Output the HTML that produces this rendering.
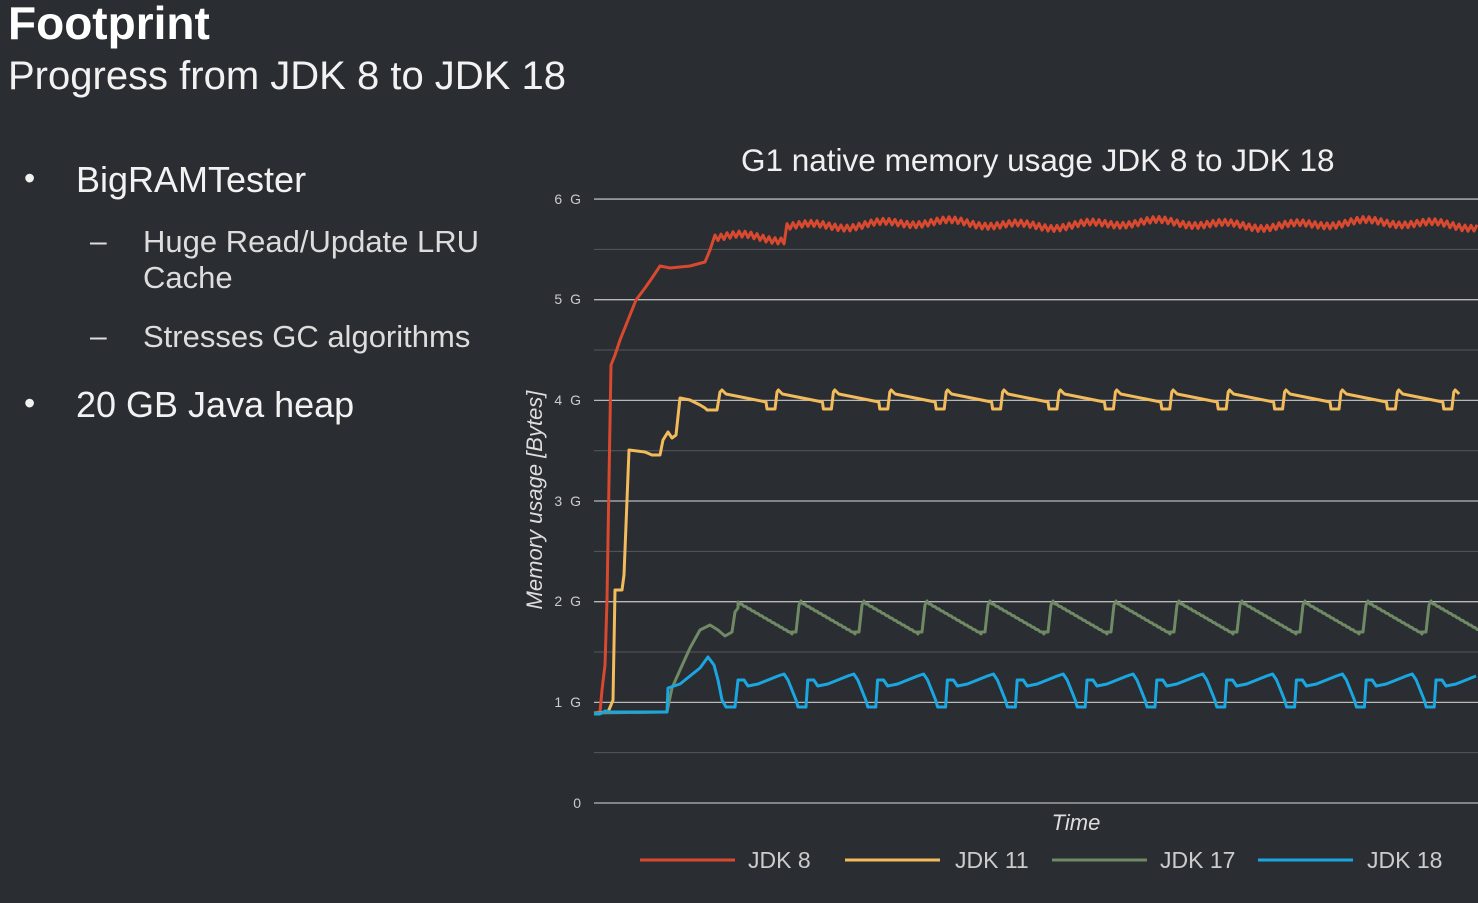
<!DOCTYPE html>
<html><head><meta charset="utf-8"><style>
html,body{margin:0;padding:0;background:#2a2d31;width:1478px;height:903px;overflow:hidden}
body{font-family:"Liberation Sans",sans-serif;color:#fff;position:relative}
.t{position:absolute;white-space:nowrap}
</style></head><body>
<div class="t" style="left:8px;top:-4px;font-size:46px;font-weight:bold;">Footprint</div>
<div class="t" style="left:8px;top:54px;font-size:40px;color:#f2f2f2">Progress from JDK 8 to JDK 18</div>
<div class="t" style="left:24px;top:160px;font-size:32px;color:#f2f2f2">•</div>
<div class="t" style="left:76px;top:159px;font-size:36px;color:#f2f2f2">BigRAMTester</div>
<div class="t" style="left:90px;top:225px;font-size:30px;color:#ddd">–</div>
<div class="t" style="left:143px;top:224px;font-size:31px;color:#ddd;line-height:36px">Huge Read/Update LRU<br>Cache</div>
<div class="t" style="left:90px;top:320px;font-size:30px;color:#ddd">–</div>
<div class="t" style="left:143px;top:319px;font-size:31px;color:#ddd">Stresses GC algorithms</div>
<div class="t" style="left:24px;top:385px;font-size:32px;color:#f2f2f2">•</div>
<div class="t" style="left:76px;top:384px;font-size:36px;color:#f2f2f2">20 GB Java heap</div>
<div class="t" style="left:741px;top:142px;font-size:31.5px;color:#f0f0f0">G1 native memory usage JDK 8 to JDK 18</div>
<svg id="c" width="1478" height="903" style="position:absolute;left:0;top:0" xmlns="http://www.w3.org/2000/svg">
<g font-family="Liberation Sans, sans-serif" font-size="14" fill="#ccc" text-anchor="end" letter-spacing="2">
<text x="583" y="204">6 G</text><text x="583" y="304">5 G</text><text x="583" y="405">4 G</text>
<text x="583" y="506">3 G</text><text x="583" y="606">2 G</text><text x="583" y="707">1 G</text><text x="583" y="808">0</text>
</g>
<text transform="translate(542,500) rotate(-90)" text-anchor="middle" font-family="Liberation Sans, sans-serif" font-size="22" font-style="italic" fill="#ddd">Memory usage [Bytes]</text>
<text x="1076" y="830" text-anchor="middle" font-family="Liberation Sans, sans-serif" font-size="22" font-style="italic" fill="#ddd">Time</text>
<g id="grid"></g><g id="series" fill="none" stroke-width="3" stroke-linejoin="round"></g>
<g stroke-width="3"><line x1="640" y1="860" x2="735" y2="860" stroke="#d9492f"/><line x1="845" y1="860" x2="940" y2="860" stroke="#f2bb5c"/><line x1="1052" y1="860" x2="1147" y2="860" stroke="#6f8a65"/><line x1="1258" y1="860" x2="1353" y2="860" stroke="#1aa6e0"/></g>
<g font-family="Liberation Sans, sans-serif" font-size="23" fill="#ccc"><text x="748" y="868">JDK 8</text><text x="955" y="868">JDK 11</text><text x="1160" y="868">JDK 17</text><text x="1367" y="868">JDK 18</text></g>
</svg>
<script>
var ns="http://www.w3.org/2000/svg",g=document.getElementById('grid'),s=document.getElementById('series');
for(var i=0;i<=12;i++){var y=803-i*50.33;var l=document.createElementNS(ns,'line');l.setAttribute('x1',594);l.setAttribute('x2',1478);l.setAttribute('y1',y);l.setAttribute('y2',y);l.setAttribute('stroke',i%2?'#55585c':'#b8b8b8');l.setAttribute('stroke-width',i%2?1:1.3);g.appendChild(l);}
function P(pts,c){var p=document.createElementNS(ns,'polyline');p.setAttribute('points',pts.map(function(a){return a[0].toFixed(1)+','+a[1].toFixed(1)}).join(' '));p.setAttribute('stroke',c);s.appendChild(p);}
var a=[[594,713],[600,712],[602,690],[605,665],[607,600],[609,480],[611,365],[615,355],[620,340],[628,320],[636,300],[645,288],[652,278],[660,266],[670,268],[690,266],[705,262],[710,250],[715,235]];
for(var x=715;x<=1478;x+=3){var b=x<785?238:224;var w=((x/3)%2<1?-3:3)+2.5*Math.sin(x/11);a.push([x,b+w-2*Math.sin(x/35)]);}
P(a,'#d9492f');
a=[[594,713],[608,712],[611,705],[613,700],[615,590],[622,590],[624,575],[627,500],[629,450],[645,452],[652,455],[660,455],[663,440],[668,432],[672,438],[676,435],[680,398],[690,400],[700,405],[705,408],[707,410],[712,410],[717,410],[720,392],[722,390]];
var p0=722,per=56.4;for(var k=0;k<14;k++){var x0=p0+k*per;a.push([x0,390],[x0+4,394],[x0+44,402],[x0+45,409],[x0+53,409],[x0+55,392],[x0+per,390]);}
P(a.filter(function(q){return q[0]<=1480}),'#f2bb5c');
a=[[594,713],[667,712],[672,688],[680,670],[690,648],[700,630],[710,625],[718,630],[725,636],[732,632],[735,612],[738,608]];
p0=738;per=63;for(k=0;k<12;k++){x0=p0+k*per;for(var t=0;t<=52;t+=4){var yy=602+30*t/52;a.push([x0+t,yy],[x0+t+2,yy+2]);}a.push([x0+54,632],[x0+58,632],[x0+61,605],[x0+per,601]);}
P(a.filter(function(q){return q[0]<=1480}),'#6f8a65');
a=[[594,714],[600,714],[605,711],[610,712],[667,712],[668,688],[680,684],[690,676],[700,668],[708,657],[714,665],[718,680],[722,700],[726,707],[735,707],[738,680]];
p0=738;per=69.8;for(k=0;k<11;k++){x0=p0+k*per;a.push([x0,680],[x0+6,680],[x0+10,686],[x0+20,684],[x0+30,680],[x0+40,676],[x0+46,674],[x0+50,680],[x0+54,690],[x0+58,700],[x0+60,707],[x0+68,707],[x0+per,680]);}
P(a.filter(function(q){return q[0]<=1480}),'#1aa6e0');
</script>
</body></html>
